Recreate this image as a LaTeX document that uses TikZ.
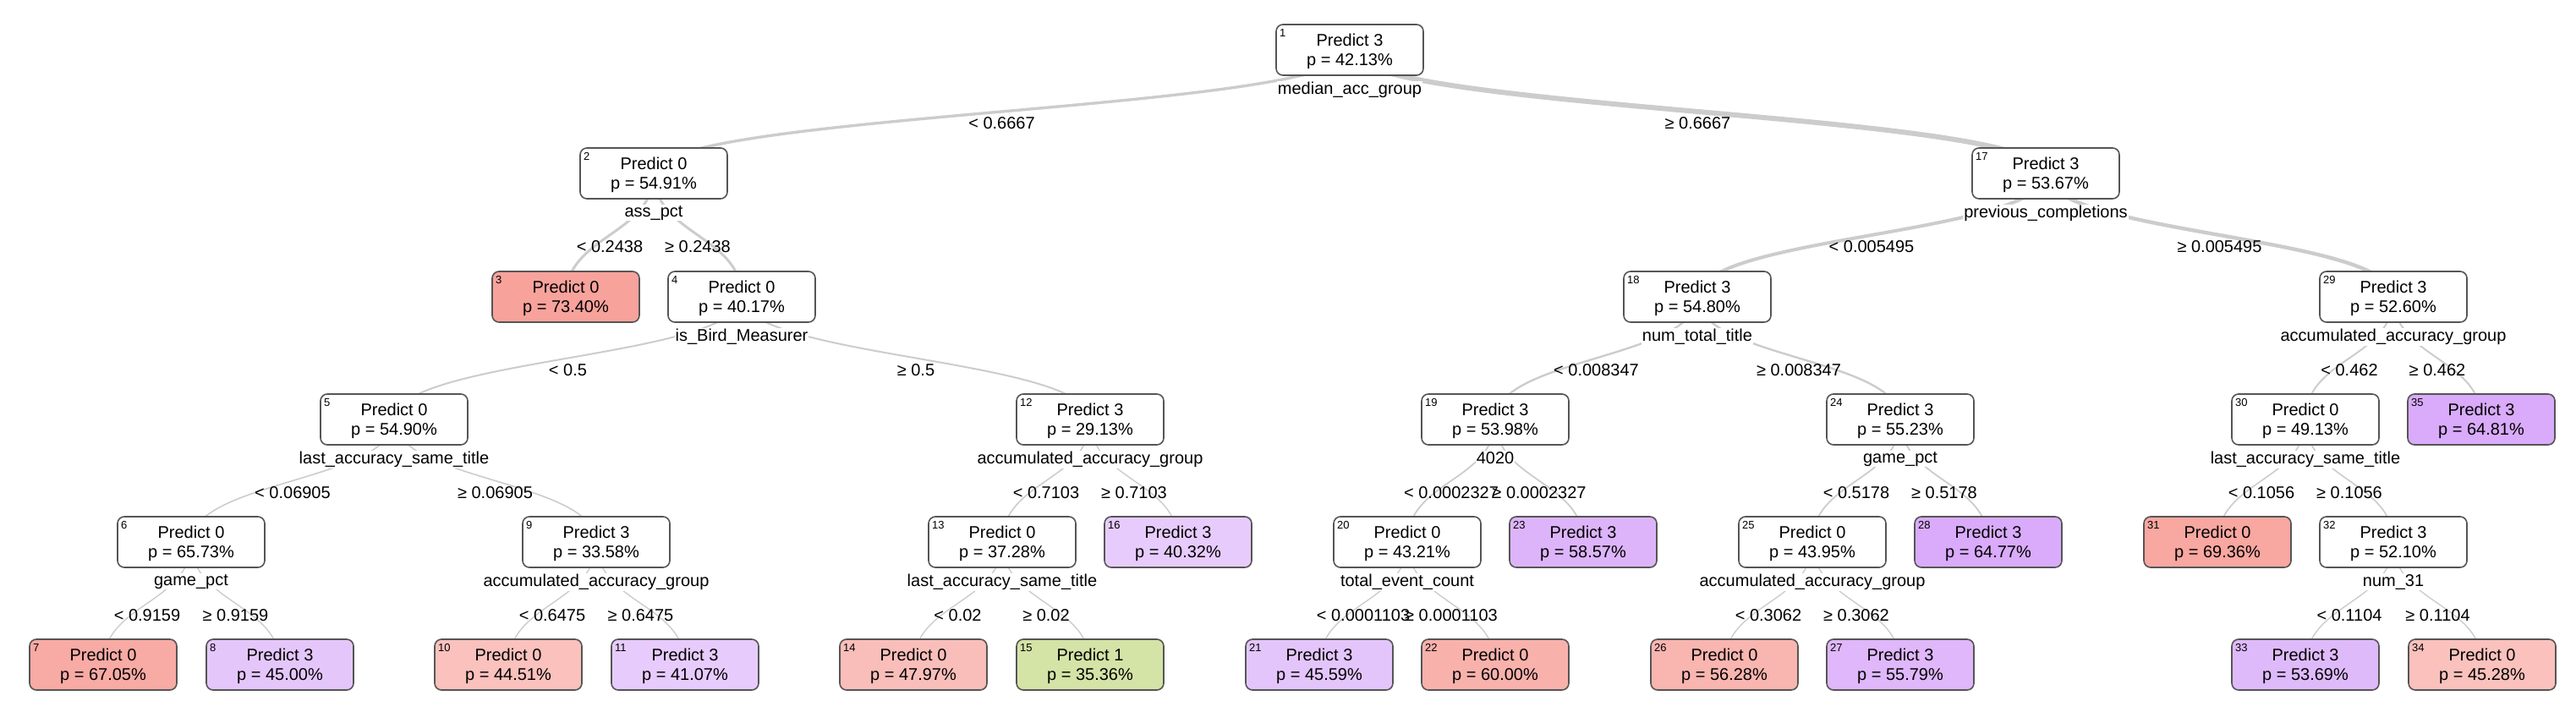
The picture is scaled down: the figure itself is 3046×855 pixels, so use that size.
\documentclass[tikz,border=0pt]{standalone}
\usepackage{fontspec}
\setmainfont{Liberation Sans}
\usetikzlibrary{positioning,backgrounds,calc}
\definecolor{clsa}{RGB}{243,100,90}
\definecolor{clsb}{RGB}{170,200,80}
\definecolor{clsc}{RGB}{205,145,248}
\definecolor{branchgray}{RGB}{204,204,204}
\definecolor{boxgray}{RGB}{85,85,85}
\begin{document}
\begin{tikzpicture}[x=0.5pt,y=-0.5pt,
  tnode/.style={draw=boxgray,line width=0.8pt,rounded corners=4pt,fill=white,
    minimum width=87pt,minimum height=30pt,inner sep=0pt,align=center,
    text depth=0.3pt,font=\fontsize{10}{11.15}\selectfont},
  num/.style={anchor=north west,inner sep=0.5pt,font=\fontsize{6.5}{7}\selectfont},
  splitlab/.style={fill=white,inner sep=0.5pt,font=\fontsize{10}{12}\selectfont},
  elab/.style={inner sep=0pt,font=\fontsize{10}{12}\selectfont},
  br/.style={draw=branchgray,to path={.. controls +(0,72.7) and +(0,-72.7) .. (\tikztotarget)}}]
\useasboundingbox (0,0) rectangle (3046,855);
% level 0 and 1
\node[tnode] (n1) at (1596,59) {Predict 3\\p = 42.13\%};
\node[tnode] (n2) at (773,205) {Predict 0\\p = 54.91\%};
\node[tnode] (n17) at (2419,205) {Predict 3\\p = 53.67\%};
% level 2
\node[tnode,fill=clsa!60] (n3) at (669,351) {Predict 0\\p = 73.40\%};
\node[tnode] (n4) at (877,351) {Predict 0\\p = 40.17\%};
\node[tnode] (n18) at (2007,351) {Predict 3\\p = 54.80\%};
\node[tnode] (n29) at (2830,351) {Predict 3\\p = 52.60\%};
% level 3
\node[tnode] (n5) at (466,496) {Predict 0\\p = 54.90\%};
\node[tnode] (n12) at (1289,496) {Predict 3\\p = 29.13\%};
\node[tnode] (n19) at (1768,496) {Predict 3\\p = 53.98\%};
\node[tnode] (n24) at (2247,496) {Predict 3\\p = 55.23\%};
\node[tnode] (n30) at (2726,496) {Predict 0\\p = 49.13\%};
\node[tnode,fill=clsc!76] (n35) at (2934,496) {Predict 3\\p = 64.81\%};
% level 4
\node[tnode] (n6) at (226,641) {Predict 0\\p = 65.73\%};
\node[tnode] (n9) at (705,641) {Predict 3\\p = 33.58\%};
\node[tnode] (n13) at (1185,641) {Predict 0\\p = 37.28\%};
\node[tnode,fill=clsc!47] (n16) at (1393,641) {Predict 3\\p = 40.32\%};
\node[tnode] (n20) at (1664,641) {Predict 0\\p = 43.21\%};
\node[tnode,fill=clsc!68] (n23) at (1872,641) {Predict 3\\p = 58.57\%};
\node[tnode] (n25) at (2143,641) {Predict 0\\p = 43.95\%};
\node[tnode,fill=clsc!76] (n28) at (2351,641) {Predict 3\\p = 64.77\%};
\node[tnode,fill=clsa!57] (n31) at (2622,641) {Predict 0\\p = 69.36\%};
\node[tnode] (n32) at (2830,641) {Predict 3\\p = 52.10\%};
% level 5
\node[tnode,fill=clsa!55] (n7) at (122,786) {Predict 0\\p = 67.05\%};
\node[tnode,fill=clsc!52] (n8) at (331,786) {Predict 3\\p = 45.00\%};
\node[tnode,fill=clsa!40] (n10) at (601,786) {Predict 0\\p = 44.51\%};
\node[tnode,fill=clsc!47] (n11) at (810,786) {Predict 3\\p = 41.07\%};
\node[tnode,fill=clsa!42] (n14) at (1080,786) {Predict 0\\p = 47.97\%};
\node[tnode,fill=clsb!51] (n15) at (1289,786) {Predict 1\\p = 35.36\%};
\node[tnode,fill=clsc!53] (n21) at (1560,786) {Predict 3\\p = 45.59\%};
\node[tnode,fill=clsa!50] (n22) at (1768,786) {Predict 0\\p = 60.00\%};
\node[tnode,fill=clsa!48] (n26) at (2039,786) {Predict 0\\p = 56.28\%};
\node[tnode,fill=clsc!65] (n27) at (2247,786) {Predict 3\\p = 55.79\%};
\node[tnode,fill=clsc!63] (n33) at (2726,786) {Predict 3\\p = 53.69\%};
\node[tnode,fill=clsa!40] (n34) at (2935,786) {Predict 0\\p = 45.28\%};
% node numbers
\foreach \i in {1,...,35}
  \node[num] (k\i) at ([xshift=1.8pt,yshift=-2.6pt]n\i.north west) {\i};
% split variables
\node[splitlab,below=3pt of n1] (s1) {median\_acc\_group};
\node[splitlab,below=3pt of n2] (s2) {ass\_pct};
\node[splitlab,below=3pt of n4] (s4) {is\_Bird\_Measurer};
\node[splitlab,below=3pt of n5] (s5) {last\_accuracy\_same\_title};
\node[splitlab,below=3pt of n6] (s6) {game\_pct};
\node[splitlab,below=3pt of n9] (s9) {accumulated\_accuracy\_group};
\node[splitlab,below=3pt of n12] (s12) {accumulated\_accuracy\_group};
\node[splitlab,below=3pt of n13] (s13) {last\_accuracy\_same\_title};
\node[splitlab,below=3pt of n17] (s17) {previous\_completions};
\node[splitlab,below=3pt of n18] (s18) {num\_total\_title};
\node[splitlab,below=3pt of n19] (s19) {4020};
\node[splitlab,below=3pt of n20] (s20) {total\_event\_count};
\node[splitlab,below=3pt of n24] (s24) {game\_pct};
\node[splitlab,below=3pt of n25] (s25) {accumulated\_accuracy\_group};
\node[splitlab,below=3pt of n29] (s29) {accumulated\_accuracy\_group};
\node[splitlab,below=3pt of n30] (s30) {last\_accuracy\_same\_title};
\node[splitlab,below=3pt of n32] (s32) {num\_31};
% branches and their split values
\begin{scope}[on background layer]
\foreach \p/\c/\w/\lab in {1/2/1.7/{< 0.6667},1/17/3/{≥ 0.6667},
    2/3/1.5/{< 0.2438},2/4/1.5/{≥ 0.2438},
    17/18/2/{< 0.005495},17/29/2.2/{≥ 0.005495},
    4/5/1/{< 0.5},4/12/1/{≥ 0.5},
    18/19/1.2/{< 0.008347},18/24/1.2/{≥ 0.008347},
    29/30/1/{< 0.462},29/35/1/{≥ 0.462},
    5/6/0.8/{< 0.06905},5/9/0.8/{≥ 0.06905},
    12/13/0.8/{< 0.7103},12/16/0.7/{≥ 0.7103},
    19/20/0.9/{< 0.0002327},19/23/0.9/{≥ 0.0002327},
    24/25/0.9/{< 0.5178},24/28/0.9/{≥ 0.5178},
    30/31/0.8/{< 0.1056},30/32/0.8/{≥ 0.1056},
    6/7/0.7/{< 0.9159},6/8/0.7/{≥ 0.9159},
    9/10/0.7/{< 0.6475},9/11/0.7/{≥ 0.6475},
    13/14/0.7/{< 0.02},13/15/0.7/{≥ 0.02},
    20/21/0.7/{< 0.0001103},20/22/0.7/{≥ 0.0001103},
    25/26/0.7/{< 0.3062},25/27/0.7/{≥ 0.3062},
    32/33/0.7/{< 0.1104},32/34/0.7/{≥ 0.1104}}{
  \draw[br,line width=\w pt] (n\p.center) to (n\c.center);
  \node[elab] (e\c) at ($(n\p)!0.5!(n\c)+(0,13.8)$) {\lab};
}
\end{scope}
\end{tikzpicture}
\end{document}
